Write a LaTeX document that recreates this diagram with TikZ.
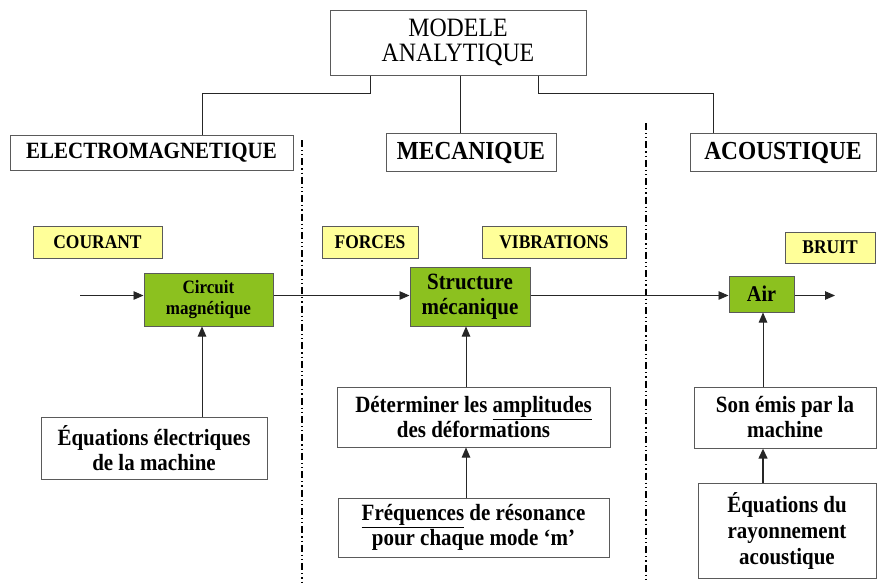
\documentclass[tikz,border=0pt]{standalone}
\usepackage{fontspec}
\setmainfont{Liberation Serif}[FakeStretch=0.9]
\usetikzlibrary{arrows.meta}
\definecolor{boxgreen}{HTML}{8CC11F}
\definecolor{boxyellow}{HTML}{FFFF99}
\definecolor{boxborder}{HTML}{5A5A5A}
\tikzset{
  x=1pt, y=-1pt,
  plainbox/.style={draw=boxborder, line width=1pt, fill=white, inner sep=0pt, align=center},
  headbox/.style={plainbox, font=\bfseries\fontsize{23.3}{25}\selectfont},
  yellowbox/.style={draw=boxborder, line width=1pt, fill=boxyellow, inner sep=0pt, align=center, font=\bfseries\fontsize{19.4}{20}\selectfont},
  greenbox/.style={draw=boxborder, line width=1pt, fill=boxgreen, inner sep=0pt, align=center},
  textbox/.style={plainbox, font=\bfseries\fontsize{23.3}{25}\selectfont},
  link/.style={draw=black!85, line width=0.9pt},
  arr/.style={link, -{Triangle[length=10pt,width=8.5pt]}},
  sepline/.style={draw=black, line width=1.8pt, dash pattern=on 7pt off 3pt on 1.2pt off 3pt on 1.2pt off 3pt},
}
\begin{document}
\begin{tikzpicture}
\useasboundingbox (0,0) rectangle (877,582);
\fill[white] (0,0) rectangle (877,582);

% separators
\coordinate (s1a) at (302,140);
\coordinate (s1b) at (302,582);
\coordinate (s2a) at (646,123);
\coordinate (s2b) at (646,582);
\draw[sepline] (s1a) -- (s1b);
\draw[sepline] (s2a) -- (s2b);

% top level
\node[plainbox, minimum width=256pt, minimum height=65pt, font=\fontsize{26.5}{25}\selectfont] (top) at (458,42.5) {MODELE\\ANALYTIQUE};
\node[headbox, minimum width=283pt, minimum height=35pt] (em) at (151.5,153) {ELECTROMAGNETIQUE};
\node[headbox, minimum width=170pt, minimum height=38pt, font=\bfseries\fontsize{26}{25}\selectfont] (mec) at (471,152.5) {MECANIQUE};
\node[headbox, minimum width=186pt, minimum height=38pt, font=\bfseries\fontsize{26}{25}\selectfont] (aco) at (783,152.5) {ACOUSTIQUE};

% tree connectors
\coordinate (tl) at (370,93);
\coordinate (tm) at (460,93);
\coordinate (tr) at (538,93);
\coordinate (el) at (202,93);
\coordinate (er) at (713,93);
\draw[link] (tl |- top.south) -- (tl) -- (el) -- (el |- em.north);
\draw[link] (tm |- top.south) -- (tm |- mec.north);
\draw[link] (tr |- top.south) -- (tr) -- (er) -- (er |- aco.north);

% yellow labels
\node[yellowbox, minimum width=129pt, minimum height=32pt] (courant) at (97.5,242) {COURANT};
\node[yellowbox, minimum width=96pt, minimum height=32pt] (forces) at (370,242) {FORCES};
\node[yellowbox, minimum width=144pt, minimum height=32pt] (vib) at (554,242) {VIBRATIONS};
\node[yellowbox, minimum width=90pt, minimum height=31pt] (bruit) at (830,247.5) {BRUIT};

% green blocks
\node[greenbox, minimum width=129pt, minimum height=53pt, font=\bfseries\fontsize{18.9}{21}\selectfont] (circ) at (208.5,299.5) {Circuit\\magnétique};
\node[greenbox, minimum width=120pt, minimum height=59pt, font=\bfseries\fontsize{23.3}{25}\selectfont] (struct) at (470,296.5) {Structure\\mécanique};
\node[greenbox, minimum width=65pt, minimum height=36pt, font=\bfseries\fontsize{22.5}{24}\selectfont] (air) at (761.5,294) {Air};

% main flow
\coordinate (in) at (80,295.5);
\coordinate (out) at (835,295.5);
\draw[arr] (in) -- (in -| circ.west);
\draw[arr] (circ.east |- in) -- (struct.west |- in);
\draw[arr] (struct.east |- in) -- (air.west |- in);
\draw[arr] (air.east |- in) -- (out);

% bottom boxes
\node[textbox, minimum width=226pt, minimum height=62pt] (eqel) at (154,448) {Équations électriques\\de la machine};
\node[textbox, minimum width=273pt, minimum height=60pt] (det) at (473.5,417) {Déterminer les \underline{amplitudes}\\des déformations};
\node[textbox, minimum width=271pt, minimum height=59pt] (freq) at (473.5,527.5) {\underline{Fréquences} de résonance\\pour chaque mode ‘m’};
\node[textbox, minimum width=182pt, minimum height=61pt] (son) at (785,417.5) {Son émis par la\\machine};
\node[textbox, minimum width=178pt, minimum height=95pt, font=\bfseries\fontsize{23.3}{26}\selectfont] (eqac) at (787,530.5) {Équations du\\rayonnement\\acoustique};

% vertical connectors
\coordinate (c1) at (202,0);
\coordinate (c2) at (466,0);
\coordinate (c3) at (763,0);
\draw[arr] (c1 |- eqel.north) -- (c1 |- circ.south);
\draw[arr] (c2 |- det.north) -- (c2 |- struct.south);
\draw[arr] (c2 |- freq.north) -- (c2 |- det.south);
\draw[arr] (c3 |- son.north) -- (c3 |- air.south);
\draw[arr, line width=2.2pt] (c3 |- eqac.north) -- (c3 |- son.south);
\end{tikzpicture}
\end{document}
